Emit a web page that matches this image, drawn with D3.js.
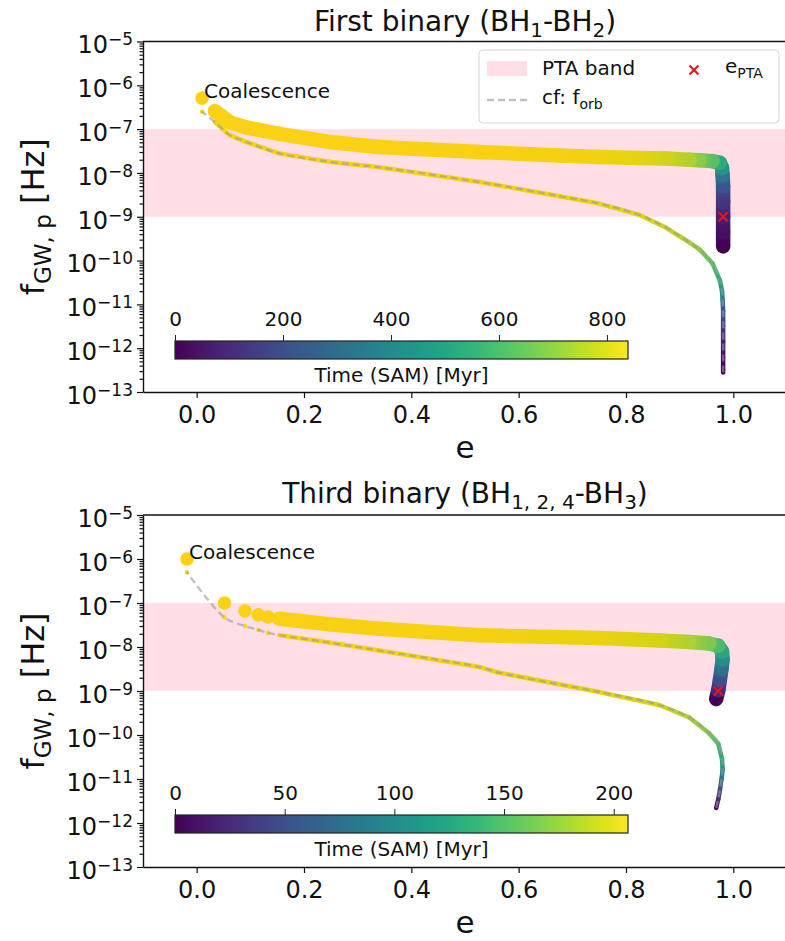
<!DOCTYPE html>
<html>
<head>
<meta charset="utf-8">
<script src="https://cdn.jsdelivr.net/npm/d3@7"></script>
<style>
  body { margin: 0; background: #fff; }
  text { font-family: "DejaVu Sans", sans-serif; fill: #111; }
</style>
</head>
<body>
<script>
// ---- data ----
// first binary (BH1-BH2), ordered in time
var ecc1   = [0.981, 0.981, 0.981, 0.981, 0.981, 0.980, 0.979, 0.975, 0.961, 0.937, 0.918, 0.875, 0.825, 0.75, 0.676, 0.527, 0.34, 0.247, 0.154, 0.092, 0.061, 0.034, 0.010];
var fPeak1 = [2.1e-10, 4.5e-10, 1.0e-9, 2.2e-9, 5.0e-9, 8.9e-9, 1.3e-8, 1.7e-8, 1.86e-8, 1.95e-8, 2.0e-8, 2.14e-8, 2.2e-8, 2.3e-8, 2.5e-8, 3.0e-8, 3.9e-8, 5.1e-8, 7.8e-8, 1.1e-7, 1.45e-7, 2.6e-7, 5.1e-7];
var fOrb1  = [2.8e-13, 6.3e-13, 1.4e-12, 3.2e-12, 7.1e-12, 1.26e-11, 2.0e-11, 3.5e-11, 8.7e-11, 1.8e-10, 2.6e-10, 5.6e-10, 1.1e-9, 2.0e-9, 2.95e-9, 6.2e-9, 1.35e-8, 1.8e-8, 2.8e-8, 5.1e-8, 7.4e-8, 1.45e-7, 2.5e-7];
var time1  = [0, 30, 70, 130, 220, 320, 420, 500, 590, 660, 710, 760, 790, 815, 825, 832, 836, 837, 838, 838.5, 838.7, 838.9, 839];
var nSparse1 = 1;          // last samples that stand apart
var tMax1 = 839;
var cbTicks1 = [0, 200, 400, 600, 800];

// third binary (BH1,2,4-BH3)
var ecc2   = [0.968, 0.972, 0.975, 0.978, 0.980, 0.979, 0.972, 0.955, 0.918, 0.862, 0.75, 0.564, 0.527, 0.34, 0.247, 0.154, 0.133, 0.115, 0.090, 0.052, -0.018];
var fPeak2 = [6.6e-10, 1.05e-9, 1.8e-9, 3.2e-9, 5.2e-9, 7.9e-9, 1.07e-8, 1.2e-8, 1.3e-8, 1.4e-8, 1.6e-8, 1.8e-8, 1.86e-8, 2.6e-8, 3.3e-8, 4.4e-8, 4.8e-8, 5.4e-8, 6.6e-8, 1.0e-7, 1.0e-6];
var fOrb2  = [2.2e-12, 3.5e-12, 5.6e-12, 1.0e-11, 1.6e-11, 2.8e-11, 6.3e-11, 1.1e-10, 2.5e-10, 4.8e-10, 9.5e-10, 2.6e-9, 3.5e-9, 8.3e-9, 1.26e-8, 1.86e-8, 2.1e-8, 2.45e-8, 3.0e-8, 4.7e-8, 5.0e-7];
var time2  = [0, 25, 50, 75, 100, 120, 140, 158, 175, 188, 197, 202, 203, 205, 205.5, 206, 206.1, 206.2, 206.3, 206.4, 206.5];
var nSparse2 = 5;
var tMax2 = 206.5;
var cbTicks2 = [0, 50, 100, 150, 200];

// eccentricity when entering the PTA band
var ePTA = [0.981, 0.972];
var fPTA = [1.0e-9, 1.0e-9];

var ptaBand = [1e-9, 1e-7];
var yDomain = [1e-13, 1e-5];
var xDomain = [-0.1, 1.1];
var xTicks = [0, 0.2, 0.4, 0.6, 0.8, 1.0];

// ---- layout ----
var width = 785, height = 941;
var left = 143, right = 787;

var svg = d3.select("body").append("svg")
    .attr("width", width)
    .attr("height", height);
var defs = svg.append("defs");

var x = d3.scaleLinear().domain(xDomain).range([left, right]);

drawPanel({
    id: 1, top: 41.5, bottom: 392, titleY: 31,
    title: [["First binary (BH", 0], ["1", 1], ["-BH", 0], ["2", 1], [")", 0]],
    ecc: ecc1, fPeak: fPeak1, fOrb: fOrb1, time: time1, nSparse: nSparse1,
    tMax: tMax1, cbTicks: cbTicks1, cbTop: 341,
    ePTA: ePTA[0], fPTA: fPTA[0], legend: true
});
drawPanel({
    id: 2, top: 515, bottom: 867, titleY: 503,
    title: [["Third binary (BH", 0], ["1, 2, 4", 1], ["-BH", 0], ["3", 1], [")", 0]],
    ecc: ecc2, fPeak: fPeak2, fOrb: fOrb2, time: time2, nSparse: nSparse2,
    tMax: tMax2, cbTicks: cbTicks2, cbTop: 815,
    ePTA: ePTA[1], fPTA: fPTA[1], legend: false
});

function gradSeg(id, x1, y1, x2, y2, c1, c2) {
    var gr = defs.append("linearGradient").attr("id", id)
        .attr("gradientUnits", "userSpaceOnUse")
        .attr("x1", x1).attr("y1", y1).attr("x2", x2).attr("y2", y2);
    gr.append("stop").attr("offset", 0).attr("stop-color", c1);
    gr.append("stop").attr("offset", 1).attr("stop-color", c2);
    return "url(#" + id + ")";
}

function drawPanel(p) {
    var y = d3.scaleLog().domain(yDomain).range([p.bottom, p.top]);
    //viridis, with the late (yellow) end rendered a little warmer as in the figure
    var color = function(t){
        var u = t / p.tMax;
        return d3.interpolateRgb(d3.interpolateViridis(u), "#f7b500")(0.45 * Math.pow(u, 4));
    };
    var g = svg.append("g");

    defs.append("clipPath").attr("id", "clip" + p.id)
      .append("rect")
        .attr("x", left).attr("y", p.top)
        .attr("width", right - left).attr("height", p.bottom - p.top);
    var plot = g.append("g").attr("clip-path", "url(#clip" + p.id + ")");

    //PTA band
    plot.append("rect")
        .attr("x", left).attr("width", right - left)
        .attr("y", y(ptaBand[1])).attr("height", y(ptaBand[0]) - y(ptaBand[1]))
        .attr("fill", "pink").attr("opacity", 0.5);

    var rows = p.ecc.map(function(e, i){
        return {e: e, fp: p.fPeak[i], fo: p.fOrb[i], t: p.time[i]};
    });
    var nDense = rows.length - p.nSparse;
    var segs = d3.pairs(rows.slice(0, nDense));
    var sparse = rows.slice(nDense);

    //orbital frequency, coloured by time
    segs.forEach(function(s, i){
        var x1 = x(s[0].e), y1 = y(s[0].fo), x2 = x(s[1].e), y2 = y(s[1].fo);
        plot.append("line")
            .attr("x1", x1).attr("y1", y1).attr("x2", x2).attr("y2", y2)
            .attr("stroke", gradSeg("go" + p.id + "_" + i, x1, y1, x2, y2, color(s[0].t), color(s[1].t)))
            .attr("stroke-width", 4.5)
            .attr("stroke-linecap", "round");
    });
    plot.selectAll(".orbDot").data(sparse).enter().append("circle")
        .attr("cx", function(d){ return x(d.e); })
        .attr("cy", function(d){ return y(d.fo); })
        .attr("r", 2.2)
        .attr("fill", function(d){ return color(d.t); });

    //cf: f_orb dashed line
    plot.append("path")
        .datum(rows)
        .attr("d", d3.line().curve(d3.curveCatmullRom)
            .x(function(d){ return x(d.e); }).y(function(d){ return y(d.fo); }))
        .attr("fill", "none")
        .attr("stroke", "#999")
        .attr("stroke-width", 2.4)
        .attr("stroke-dasharray", "7,4")
        .attr("opacity", 0.6);

    //peak GW frequency track
    segs.forEach(function(s, i){
        var x1 = x(s[0].e), y1 = y(s[0].fp), x2 = x(s[1].e), y2 = y(s[1].fp);
        plot.append("line")
            .attr("x1", x1).attr("y1", y1).attr("x2", x2).attr("y2", y2)
            .attr("stroke", gradSeg("gp" + p.id + "_" + i, x1, y1, x2, y2, color(s[0].t), color(s[1].t)))
            .attr("stroke-width", 14.5)
            .attr("stroke-linecap", "round");
    });
    plot.selectAll(".pkDot").data(sparse).enter().append("circle")
        .attr("cx", function(d){ return x(d.e); })
        .attr("cy", function(d){ return y(d.fp); })
        .attr("r", 6.8)
        .attr("fill", function(d){ return color(d.t); });

    //e_PTA marker
    var px = x(p.ePTA), py = y(p.fPTA), m = 4.5;
    plot.append("path")
        .attr("d", "M" + (px - m) + "," + (py - m) + "L" + (px + m) + "," + (py + m) +
                   "M" + (px - m) + "," + (py + m) + "L" + (px + m) + "," + (py - m))
        .attr("stroke", "#e8141c").attr("stroke-width", 2.2);

    //coalescence label
    var last = rows[rows.length - 1];
    g.append("text")
        .attr("x", x(last.e) + 2).attr("y", y(last.fp))
        .style("font-size", "20px")
        .text("Coalescence");

    //axes
    var yAxis = d3.axisLeft(y)
        .tickValues(y.ticks())
        .tickSize(6).tickSizeOuter(0).tickPadding(4)
        .tickFormat("");
    var ya = g.append("g").attr("transform", "translate(" + left + ",0)").call(yAxis);
    ya.selectAll(".tick").each(function(d){
        var k = Math.round(Math.log10(d));
        var tick = d3.select(this);
        if (Math.abs(Math.log10(d) - k) > 1e-6) {
            tick.select("line").attr("x2", -3.5);
            return;
        }
        var t = tick.select("text")
            .attr("x", -10).attr("dy", "0.47em")
            .attr("text-anchor", "end")
            .style("font-size", "24px");
        t.append("tspan").text("10");
        t.append("tspan").attr("dy", -8).style("font-size", "17px").text("\u2212" + Math.abs(k));
    });

    var xa = g.append("g").attr("transform", "translate(0," + p.bottom + ")")
        .call(d3.axisBottom(x).tickValues(xTicks).tickSize(6).tickSizeOuter(0).tickPadding(8)
              .tickFormat(d3.format(".1f")));
    xa.selectAll("text").style("font-size", "24px");

    g.selectAll(".domain, .tick line").attr("stroke", "#111").attr("stroke-width", 1.2);
    ya.select(".domain").attr("stroke-width", 1.4);
    xa.select(".domain").attr("stroke-width", 1.4);
    g.append("line").attr("x1", left).attr("x2", right).attr("y1", p.top).attr("y2", p.top)
        .attr("stroke", "#111").attr("stroke-width", 1.4);
    g.append("line").attr("x1", right).attr("x2", right).attr("y1", p.top).attr("y2", p.bottom)
        .attr("stroke", "#111").attr("stroke-width", 1.4);

    //axis labels
    var midY = (p.top + p.bottom) / 2;
    var yl = g.append("text")
        .attr("transform", "translate(44," + midY + ") rotate(-90)")
        .attr("text-anchor", "middle")
        .style("font-size", "32px");
    yl.append("tspan").text("f");
    yl.append("tspan").attr("dy", 7).style("font-size", "23px").text("GW, p");
    yl.append("tspan").attr("dy", -7).text(" [Hz]");

    g.append("text")
        .attr("x", (left + right) / 2).attr("y", p.bottom + 66)
        .attr("text-anchor", "middle")
        .style("font-size", "31px")
        .text("e");

    //title
    var tt = g.append("text")
        .attr("x", (left + right) / 2).attr("y", p.titleY)
        .attr("text-anchor", "middle")
        .style("font-size", "28px");
    var shift = 0;
    p.title.forEach(function(part){
        var dy = part[1] ? 6 - shift : -shift;
        shift += dy;
        tt.append("tspan").attr("dy", dy)
            .style("font-size", part[1] ? "20px" : "28px")
            .text(part[0]);
    });

    //colour bar
    var cb = d3.scaleLinear().domain([0, p.tMax]).range([175, 628]);
    var cg = defs.append("linearGradient").attr("id", "cbar" + p.id);
    d3.range(0, 1.0001, 0.05).forEach(function(o){
        cg.append("stop").attr("offset", o).attr("stop-color", d3.interpolateViridis(o));
    });
    g.append("rect")
        .attr("x", cb.range()[0]).attr("y", p.cbTop)
        .attr("width", cb.range()[1] - cb.range()[0]).attr("height", 18)
        .attr("fill", "url(#cbar" + p.id + ")")
        .attr("stroke", "#222").attr("stroke-width", 1.2);
    var ca = g.append("g").attr("transform", "translate(0," + p.cbTop + ")")
        .call(d3.axisTop(cb).tickValues(p.cbTicks).tickSize(6).tickPadding(9).tickSizeOuter(0));
    ca.select(".domain").remove();
    ca.selectAll("line").attr("stroke", "#222");
    ca.selectAll("text").style("font-size", "20px");
    g.append("text")
        .attr("x", (cb.range()[0] + cb.range()[1]) / 2).attr("y", p.cbTop + 41)
        .attr("text-anchor", "middle")
        .style("font-size", "20px")
        .text("Time (SAM) [Myr]");

    if (p.legend) drawLegend(g);
}

function drawLegend(g) {
    var lg = g.append("g");
    lg.append("rect")
        .attr("x", 479).attr("y", 50).attr("width", 300).attr("height", 73)
        .attr("rx", 4)
        .attr("fill", "#fff").attr("fill-opacity", 0.8)
        .attr("stroke", "#d6d6d6").attr("stroke-width", 1);
    lg.append("rect")
        .attr("x", 487).attr("y", 61).attr("width", 40).attr("height", 15)
        .attr("fill", "pink").attr("opacity", 0.5);
    lg.append("text").attr("x", 542).attr("y", 75).style("font-size", "20px").text("PTA band");
    lg.append("line")
        .attr("x1", 487).attr("x2", 527).attr("y1", 100).attr("y2", 100)
        .attr("stroke", "#999").attr("opacity", 0.6)
        .attr("stroke-width", 2.4).attr("stroke-dasharray", "7,4");
    var t2 = lg.append("text").attr("x", 542).attr("y", 104).style("font-size", "20px");
    t2.append("tspan").text("cf: f");
    t2.append("tspan").attr("dy", 5).style("font-size", "14px").text("orb");
    var m = 4.5, cx = 694, cy = 70;
    lg.append("path")
        .attr("d", "M" + (cx - m) + "," + (cy - m) + "L" + (cx + m) + "," + (cy + m) +
                   "M" + (cx - m) + "," + (cy + m) + "L" + (cx + m) + "," + (cy - m))
        .attr("stroke", "#e8141c").attr("stroke-width", 2.2);
    var t3 = lg.append("text").attr("x", 725).attr("y", 73).style("font-size", "20px");
    t3.append("tspan").text("e");
    t3.append("tspan").attr("dy", 5).style("font-size", "14px").text("PTA");
}
</script>
</body>
</html>
